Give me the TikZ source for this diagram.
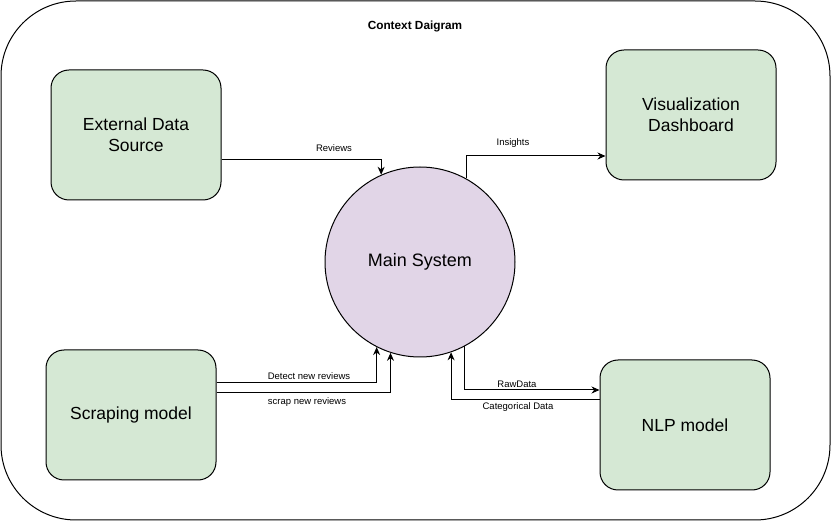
\documentclass[tikz,border=0pt]{standalone}
\usepackage{fontspec}
\setmainfont{Liberation Sans}
\usetikzlibrary{arrows.meta,calc}
\definecolor{boxgreen}{HTML}{D5E8D4}
\definecolor{circpurple}{HTML}{E1D5E7}
\tikzset{
  entity/.style={draw=black, fill=boxgreen, rounded corners=18pt, minimum width=170pt, minimum height=130pt, line width=1pt, align=center, font=\fontsize{17.5}{21}\selectfont, inner sep=0pt},
  proc/.style={draw=black, fill=circpurple, circle, minimum size=190pt, line width=1pt, font=\fontsize{18}{21}\selectfont, inner sep=0pt},
  conn/.style={draw=black, line width=1pt, -{Stealth[length=8pt,width=7pt]}},
  lbl/.style={font=\fontsize{9.5}{11}\selectfont, inner sep=0pt}
}
\begin{document}
\begin{tikzpicture}[x=1pt,y=-1pt]
\useasboundingbox (0,0) rectangle (831,521);
\draw[line width=1pt, rounded corners=75pt] (1,1) rectangle (830,520);
\node[font=\bfseries\fontsize{11.8}{13}\selectfont] (title) at (415,26) {Context Daigram};
\node[entity] (ext) at (136,135) {External Data\\Source};
\node[entity] (viz) at (691,115) {Visualization\\Dashboard};
\node[entity] (scr) at (131,415) {Scraping model};
\node[entity] (nlp) at (685,425) {NLP model};
\node[proc] (main) at (420,262) {Main System};
\draw[conn] ([yshift=-25pt]ext.east) -| (main.114);
\draw[conn] (main.61) |- ([yshift=-41pt]viz.west);
\draw[conn] ([yshift=32pt]scr.east) -| (main.243);
\draw[conn] ([yshift=22pt]scr.east) -| (main.252);
\draw[conn] (main.298) |- ([yshift=35pt]nlp.west);
\draw[conn] ([yshift=25pt]nlp.west) -| (main.289);
\node[lbl] (lrev) at (334,148) {Reviews};
\node[lbl] (lins) at (513,143) {Insights};
\node[lbl] (ldet) at (309,376) {Detect new reviews};
\node[lbl] (lscr) at (307,402) {scrap new reviews};
\node[lbl] (lraw) at (517,384) {RawData};
\node[lbl] (lcat) at (518,407) {Categorical Data};
\end{tikzpicture}
\end{document}
